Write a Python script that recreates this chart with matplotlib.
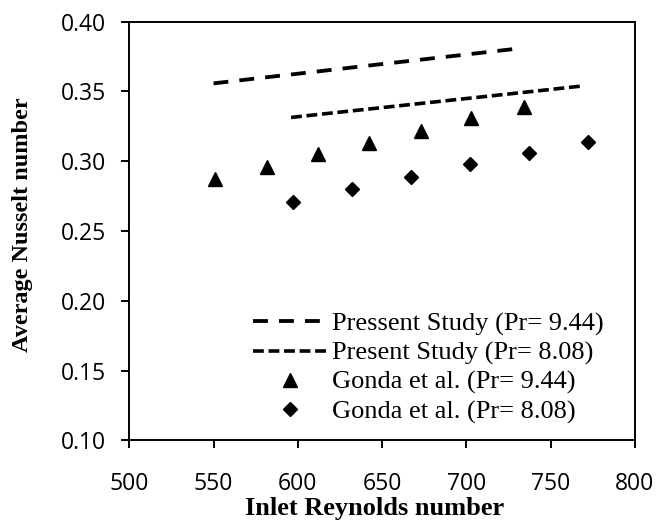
import matplotlib
matplotlib.use("Agg")
import matplotlib.pyplot as plt

# simulation curves (present study)
re_sim_944 = [550, 580, 610, 640, 670, 700, 728]
nu_sim_944 = [0.3558, 0.3600, 0.3641, 0.3683, 0.3724, 0.3765, 0.3804]
re_sim_808 = [596, 625, 655, 685, 715, 745, 770]
nu_sim_808 = [0.3314, 0.3352, 0.3391, 0.3430, 0.3469, 0.3508, 0.3541]

# experimental points (Gonda et al.)
re_exp_944 = [551, 581.5, 612, 642.5, 673, 703, 734]
nu_exp_944 = [0.287, 0.296, 0.305, 0.313, 0.322, 0.331, 0.339]
re_exp_808 = [597, 632, 667, 702, 737, 772]
nu_exp_808 = [0.271, 0.280, 0.289, 0.298, 0.306, 0.314]

labels = ["Pressent Study (Pr= 9.44)", "Present Study (Pr= 8.08)",
          "Gonda et al. (Pr= 9.44)", "Gonda et al. (Pr= 8.08)"]

fig = plt.figure(figsize=(6.62, 5.23), dpi=100)
ax = fig.add_axes([0.1953, 0.158, 0.7637, 0.8005])

ax.plot(re_sim_944, nu_sim_944, color="black", lw=2.75, dashes=(3.9, 2.9),
        label=labels[0])
ax.plot(re_sim_808, nu_sim_808, color="black", lw=2.6, dashes=(3.0, 1.3),
        label=labels[1])
ax.plot(re_exp_944, nu_exp_944, "^", color="black", ms=9.4, ls="none",
        label=labels[2])
ax.plot(re_exp_808, nu_exp_808, "D", color="black", ms=6.8, ls="none",
        label=labels[3])

ax.set_xlim(500, 800)
ax.set_ylim(0.10, 0.40)
ax.set_xticks(range(500, 801, 50))
ax.set_yticks([0.10, 0.15, 0.20, 0.25, 0.30, 0.35, 0.40])
ax.set_yticklabels(["%.2f" % v for v in ax.get_yticks()])

for s in ax.spines.values():
    s.set_linewidth(1.4)
ax.tick_params(direction="out", length=6, width=1.4, labelsize=16.5)
ax.tick_params(axis="x", pad=17)
ax.tick_params(axis="y", pad=11)
for t in ax.get_xticklabels() + ax.get_yticklabels():
    t.set_family("Open Sans")

ax.set_xlabel("Inlet Reynolds number", family="Liberation Serif",
              weight="bold", fontsize=19)
ax.set_ylabel("Average Nusselt number", family="Liberation Serif",
              weight="bold", fontsize=17.5)
ax.xaxis.set_label_coords(0.486, -0.1355)
ax.yaxis.set_label_coords(-0.19, 0.514)

ax.legend(loc="upper left", bbox_to_anchor=(0.2446, 0.306), frameon=False,
          prop={"family": "Liberation Serif", "size": 19}, borderpad=0,
          borderaxespad=0, handlelength=2.8, handletextpad=0.18,
          labelspacing=0.2)

fig.savefig("out.png", dpi=100)
